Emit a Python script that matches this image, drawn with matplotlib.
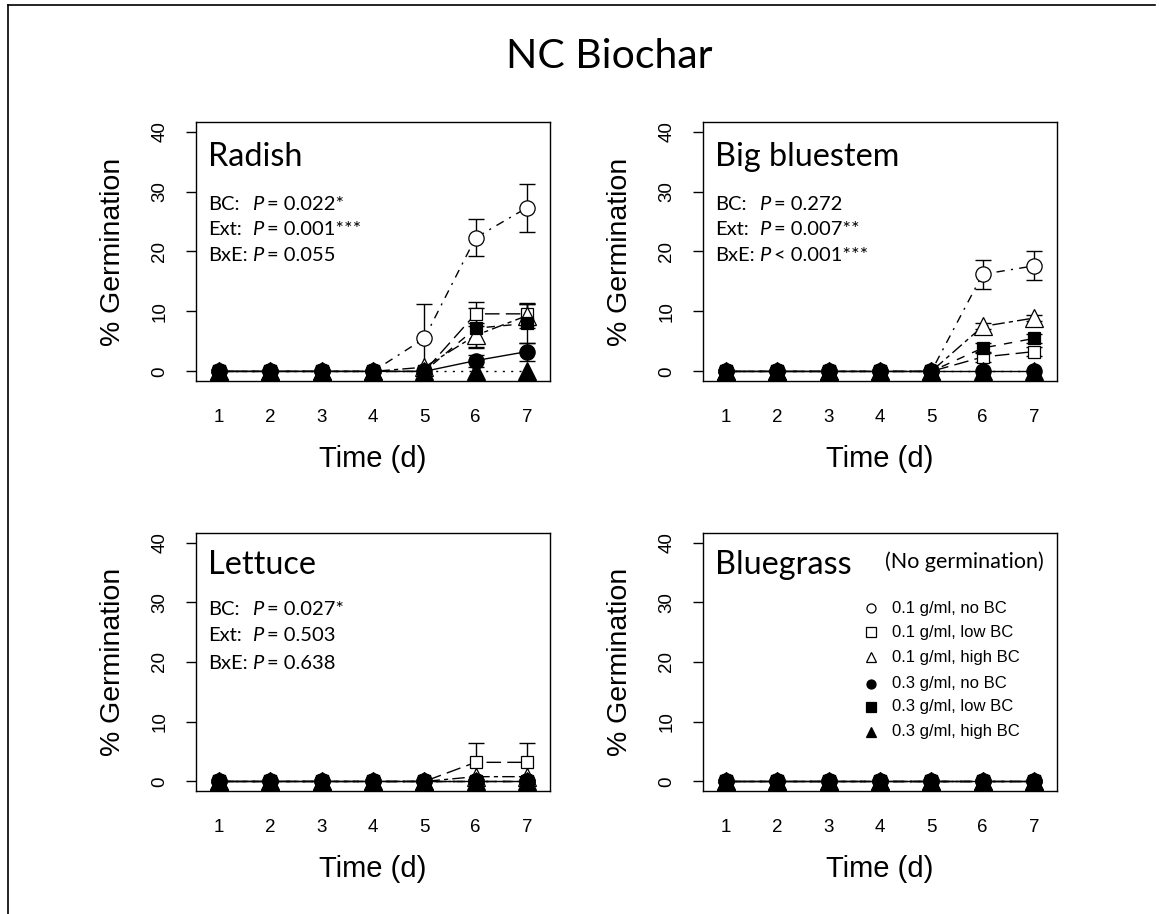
import numpy as np
import matplotlib
matplotlib.use('Agg')
import matplotlib.pyplot as plt
from matplotlib.lines import Line2D

plt.rcParams['font.family'] = ['Liberation Sans', 'DejaVu Sans']

# Datos
days = [1, 2, 3, 4, 5, 6, 7]
series_names = ['0.1 g/ml, no BC', '0.1 g/ml, low BC', '0.1 g/ml, high BC',
                '0.3 g/ml, no BC', '0.3 g/ml, low BC', '0.3 g/ml, high BC']

radish_mean = [[0, 0, 0, 0, 5.5, 22.3, 27.3],
               [0, 0, 0, 0, 0, 9.6, 9.6],
               [0, 0, 0, 0, 0.7, 6.0, 9.3],
               [0, 0, 0, 0, 0, 1.8, 3.3],
               [0, 0, 0, 0, 0, 7.2, 8.0],
               [0, 0, 0, 0, 0, 0, 0]]
radish_err = [[0, 0, 0, 0, 5.7, 3.1, 4.0],
              [0, 0, 0, 0, 0, 2.0, 1.8],
              [0, 0, 0, 0, 0, 2.0, 2.0],
              [0, 0, 0, 0, 0, 1.0, 1.5],
              [0, 0, 0, 0, 0, 3.3, 3.3],
              [0, 0, 0, 0, 0, 0, 0]]

bluestem_mean = [[0, 0, 0, 0, 0, 16.2, 17.6],
                 [0, 0, 0, 0, 0, 2.4, 3.3],
                 [0, 0, 0, 0, 0, 7.5, 8.9],
                 [0, 0, 0, 0, 0, 0, 0],
                 [0, 0, 0, 0, 0, 3.9, 5.5],
                 [0, 0, 0, 0, 0, 0, 0]]
bluestem_err = [[0, 0, 0, 0, 0, 2.4, 2.4],
                [0, 0, 0, 0, 0, 0.8, 0.8],
                [0, 0, 0, 0, 0, 0.5, 0.5],
                [0, 0, 0, 0, 0, 0, 0],
                [0, 0, 0, 0, 0, 0.8, 0.8],
                [0, 0, 0, 0, 0, 0, 0]]

lettuce_mean = [[0, 0, 0, 0, 0, 0, 0],
                [0, 0, 0, 0, 0, 3.2, 3.2],
                [0, 0, 0, 0, 0, 0.8, 0.8],
                [0, 0, 0, 0, 0, 0, 0],
                [0, 0, 0, 0, 0, 0, 0],
                [0, 0, 0, 0, 0, 0, 0]]
lettuce_err = [[0, 0, 0, 0, 0, 0, 0],
               [0, 0, 0, 0, 0, 3.2, 3.2],
               [0, 0, 0, 0, 0, 0, 0],
               [0, 0, 0, 0, 0, 0, 0],
               [0, 0, 0, 0, 0, 0, 0],
               [0, 0, 0, 0, 0, 0, 0]]

bluegrass_mean = [[0, 0, 0, 0, 0, 0, 0] for _ in range(6)]
bluegrass_err = [[0, 0, 0, 0, 0, 0, 0] for _ in range(6)]

p_labels = ['BC:', 'Ext:', 'BxE:']
radish_p = ['= 0.022*', '= 0.001***', '= 0.055']
bluestem_p = ['= 0.272', '= 0.007**', '< 0.001***']
lettuce_p = ['= 0.027*', '= 0.503', '= 0.638']

# Estilos
markers = ['o', 's', '^', 'o', 's', '^']
msizes = [11, 8, 13, 11, 8, 13]
filled = [False, False, False, True, True, True]
styles = [(0, (1.5, 4.5, 6, 4.5)), (0, (10.5, 4.5)), (0, (3, 3, 9, 3)),
          '-', (0, (6, 6)), (0, (1.5, 4.5))]
leg_sizes = [6.5, 6.5, 7.8, 6.5, 6.5, 7.8]

txt_font = 'Lato'

fig = plt.figure(figsize=(11.59, 9.14), dpi=100)

W, H = 1159, 914


def make_ax(x0, y0, x1, y1):
    return fig.add_axes([x0 / W, 1 - y1 / H, (x1 - x0) / W, (y1 - y0) / H])


def draw_panel(ax, mean, err):
    for i in range(6):
        y = np.array(mean[i], dtype=float)
        e = np.array(err[i], dtype=float)
        x = np.array(days)
        ax.plot(x, y, color='black', lw=1.0, linestyle=styles[i], zorder=2)
        m = e > 0
        if m.any():
            ax.errorbar(x[m], y[m], yerr=e[m], fmt='none', ecolor='black',
                        elinewidth=1.0, capsize=5.5, capthick=1.0, zorder=3)
        ax.plot(x, y, linestyle='none', marker=markers[i], ms=msizes[i],
                mfc='black' if filled[i] else 'white', mec='black', mew=0.9,
                zorder=4 + i, clip_on=False)

    ax.set_xlim(0.55, 7.45)
    ax.set_ylim(-1.6, 41.6)
    ax.set_xticks(days)
    ax.set_yticks([0, 10, 20, 30, 40])
    ax.tick_params(axis='x', length=0, pad=20, labelsize=13.5)
    ax.tick_params(axis='y', length=7, width=1, pad=13, labelsize=13.5,
                   labelrotation=90)
    for lbl in ax.get_yticklabels():
        lbl.set_va('center')
    for s in ax.spines.values():
        s.set_linewidth(1.0)
    ax.text(-0.234, 0.5, '% Germination', transform=ax.transAxes,
            rotation=90, ha='center', va='center', fontsize=20.5)
    ax.text(0.5, -0.302, 'Time (d)', transform=ax.transAxes,
            ha='center', va='center', fontsize=21)


def panel_text(ax, name, name_y, pvals=None, p_ys=None):
    ax.text(0.035, name_y, name, transform=ax.transAxes, ha='left',
            va='center', fontsize=23.3, family=txt_font)
    if pvals is None:
        return
    for lab, val, yy in zip(p_labels, pvals, p_ys):
        ax.text(0.035, yy, lab, transform=ax.transAxes, ha='left',
                va='center', fontsize=14.5, family=txt_font)
        ax.text(0.158, yy, 'P', transform=ax.transAxes, ha='left',
                va='center', fontsize=14.5, family=txt_font, style='italic')
        ax.text(0.2, yy, val, transform=ax.transAxes, ha='left',
                va='center', fontsize=14.5, family=txt_font)


ax1 = make_ax(196, 122, 550, 381)
draw_panel(ax1, radish_mean, radish_err)
panel_text(ax1, 'Radish', 0.865, radish_p, [0.680, 0.585, 0.486])

ax2 = make_ax(703, 122, 1057, 381)
draw_panel(ax2, bluestem_mean, bluestem_err)
panel_text(ax2, 'Big bluestem', 0.865, bluestem_p, [0.680, 0.585, 0.486])

ax3 = make_ax(196, 533, 550, 791)
draw_panel(ax3, lettuce_mean, lettuce_err)
panel_text(ax3, 'Lettuce', 0.876, lettuce_p, [0.705, 0.601, 0.496])

ax4 = make_ax(703, 533, 1057, 791)
draw_panel(ax4, bluegrass_mean, bluegrass_err)
panel_text(ax4, 'Bluegrass', 0.876)
ax4.text(0.737, 0.888, '(No germination)', transform=ax4.transAxes,
         ha='center', va='center', fontsize=15.5, family=txt_font)

# Leyenda
leg_y = [0.709, 0.616, 0.519, 0.415, 0.326, 0.229]
for i in range(6):
    ax4.plot([0.475], [leg_y[i]], transform=ax4.transAxes, linestyle='none',
             marker=markers[i], ms=leg_sizes[i],
             mfc='black' if filled[i] else 'white', mec='black', mew=0.9,
             zorder=20)
    ax4.text(0.534, leg_y[i], series_names[i], transform=ax4.transAxes,
             ha='left', va='center', fontsize=12)

# Titulo
fig.text(609 / W, 1 - 57 / H, 'NC Biochar', ha='center', va='center',
         fontsize=29.5, family=txt_font)

# Marco
fig.add_artist(Line2D([7.5 / W, 7.5 / W], [0, 1 - 5 / H], color='black', lw=1.2))
fig.add_artist(Line2D([7.5 / W, 1155 / W], [1 - 5 / H, 1 - 5 / H], color='black', lw=1.2))

fig.savefig('out.png', dpi=100)
